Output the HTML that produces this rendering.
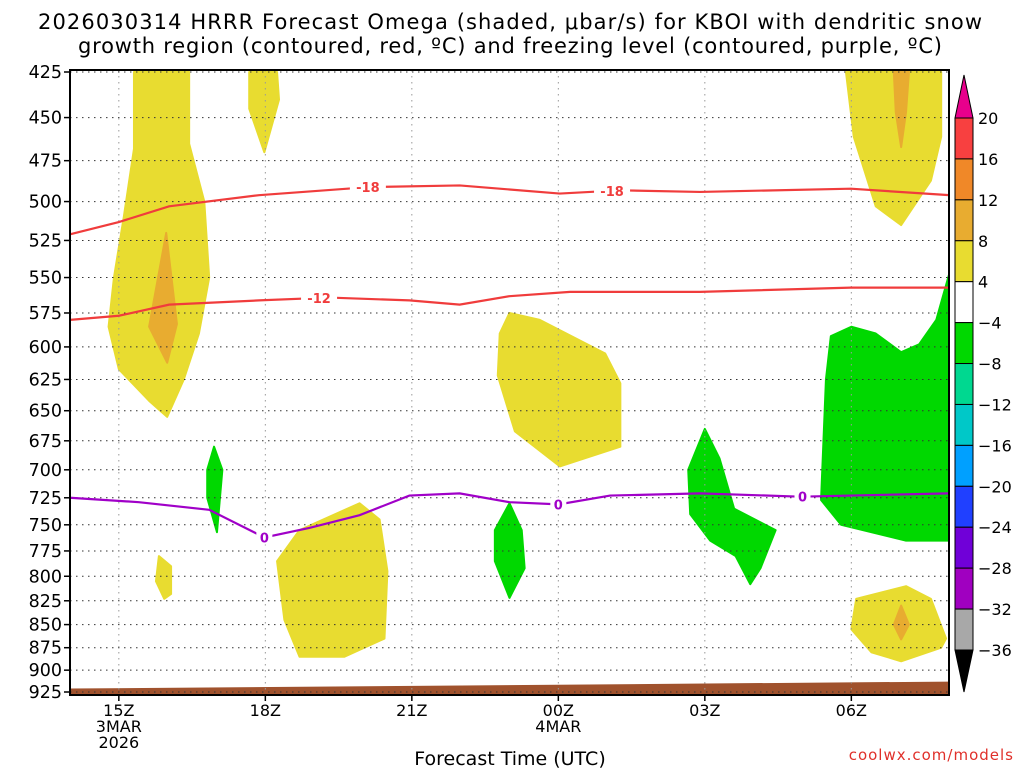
<!DOCTYPE html>
<html><head><meta charset="utf-8"><style>
body{margin:0;background:#fff;font-family:"Liberation Sans",sans-serif}
svg text{font-family:"DejaVu Sans","Liberation Sans",sans-serif}
</style></head><body>
<svg id="c" width="1024" height="768" xmlns="http://www.w3.org/2000/svg">
<text x="510" y="29" font-size="21" text-anchor="middle" textLength="944">2026030314 HRRR Forecast Omega (shaded, μbar/s) for KBOI with dendritic snow</text>
<text x="510" y="53" font-size="21" text-anchor="middle" textLength="864">growth region (contoured, red, ºC) and freezing level (contoured, purple, ºC)</text>
<text x="510" y="765" font-size="19" text-anchor="middle">Forecast Time (UTC)</text>
<text x="1014" y="760" font-size="15" fill="#e0302a" text-anchor="end" letter-spacing="1">coolwx.com/models</text>
<g id="plot"></g>
</svg>
<script>
const yTicks=[425,450,475,500,525,550,575,600,625,650,675,700,725,750,775,800,825,850,875,900,925];
const xTickHours=[1,4,7,10,13,16];
const xTickLabels=["15Z","18Z","21Z","00Z","03Z","06Z"];
const xSubLabels=[["3MAR","2026"],[],[],["4MAR"],[],[]];
const cbLevels=[20,16,12,8,4,-4,-8,-12,-16,-20,-24,-28,-32,-36];
const cbColors=["#f84040","#f08828","#e8ac30","#e8dc30","#ffffff","#00d800","#00d890","#00c8c8","#00a0ff","#2040ff","#7000d8","#a000c0","#a8a8a8"];
const yellowAreas=[
[[1.31,425],[2.44,425],[2.44,465],[2.75,500],[2.85,550],[2.64,590],[2.33,625],[1.99,655],[1.62,642],[1.0,617],[0.79,585],[0.9,550],[1.1,510],[1.31,468]],
[[3.67,425],[4.24,425],[4.28,440],[3.98,470],[3.67,445]],
[[15.89,425],[17.84,425],[17.84,461],[17.63,487],[17.02,515],[16.5,503],[16.05,461]],
[[9.0,575],[9.62,580],[10.96,605],[11.27,628],[11.27,680],[10.03,697],[9.11,667],[8.76,622],[8.8,590]],
[[5.93,730],[6.34,745],[6.5,795],[6.44,865],[5.62,885],[4.7,885],[4.39,845],[4.24,785],[4.7,755]],
[[1.82,780],[2.07,790],[2.07,818],[1.93,823],[1.76,805]],
[[16.1,823],[17.12,810],[17.63,823],[17.94,865],[17.84,875],[17.02,890],[16.41,880],[16.0,855]]];
const orangeAreas=[
[[1.97,520],[2.19,583],[1.99,612],[1.62,585]],
[[16.87,425],[17.18,425],[17.12,447],[17.02,467],[16.91,447]],
[[17.02,830],[17.18,850],[17.02,866],[16.87,850]]];
const greenAreas=[
[[2.95,680],[3.12,700],[3.01,757],[2.81,725],[2.81,700]],
[[9.0,730],[9.25,755],[9.31,792],[9.0,822],[8.7,785],[8.7,755]],
[[13.0,665],[13.3,690],[13.6,735],[14.45,755],[14.14,792],[13.93,808],[13.63,780],[13.11,765],[12.7,740],[12.66,700]],
[[16.0,585],[16.5,590],[17.02,604],[17.39,598],[17.74,580],[18,548],[18,765],[17.12,765],[15.79,750],[15.38,727],[15.48,625],[15.58,592]]];
const lineHours18=[0,1.0,2.03,3.87,6.13,7.98,10.03,11.27,12.9,15.99,18];
const linePres18=[521,513,503,496,491,490,495,493,494,492,496];
const lineHours12=[0,1.0,2.03,3.87,5.31,6.95,7.98,9.0,10.24,12.9,15.99,18];
const linePres12=[580,577,569,566,564,566,569,563,560,560,557,557];
const lineHours0=[0,1.41,2.85,3.98,4.9,5.93,6.95,7.98,9.0,10.01,11.06,12.9,14.96,18];
const linePres0=[725,729,736,762,753,741,723,721,729,731,723,721,724,721];
const groundHours=[0,18];
const groundPres=[921,913];

const L=70,R=949,T=70,B=695;
const X=h=>L+h/18*(R-L);
const Y=p=>72+(Math.log(p)-Math.log(425))/(Math.log(925)-Math.log(425))*620;
const NS="http://www.w3.org/2000/svg";
const g=document.getElementById('plot');
function mk(t,a,parent){const e=document.createElementNS(NS,t);for(const k in a)e.setAttribute(k,a[k]);(parent||g).appendChild(e);return e;}
function poly(pts,fill,name){const e=mk('polygon',{points:pts.map(q=>X(q[0])+','+Y(q[1])).join(' '),fill:fill,'stroke':fill,'stroke-width':2,'stroke-linejoin':'round'});

}
yellowAreas.forEach(a=>poly(a,'#e8dc30','omega-yellow-area'));
orangeAreas.forEach(a=>poly(a,'#e8ac30','omega-orange-area'));
greenAreas.forEach(a=>poly(a,'#00d800','omega-green-area'));
{const pts=[[groundHours[0],groundPres[0]],[groundHours[1],groundPres[1]],[18,935],[0,935]];
const e=mk('polygon',{points:pts.map(q=>X(q[0])+','+Math.min(B,Y(q[1]))).join(' '),fill:'#a0522d'});

}
yTicks.forEach(p=>{const e=mk('line',{x1:L,x2:R,y1:Y(p),y2:Y(p),stroke:'#333','stroke-dasharray':'1.5,4.5','stroke-width':1});

});
xTickHours.forEach(h=>{const e=mk('line',{x1:X(h),x2:X(h),y1:T,y2:B,stroke:'#999','stroke-dasharray':'1.5,4.5','stroke-width':1});

});
function line(hs,ps,col,name){const e=mk('polyline',{points:hs.map((h,i)=>X(h)+','+Y(ps[i])).join(' '),fill:'none',stroke:col,'stroke-width':2.2});

}
line(lineHours18,linePres18,'#f03c3c','contour-minus18');
line(lineHours12,linePres12,'#f03c3c','contour-minus12');
line(lineHours0,linePres0,'#a000c8','freezing-level-0');
function interp(hs,ps,h){for(let i=0;i<hs.length-1;i++)if(h>=hs[i]&&h<=hs[i+1])return ps[i]+(ps[i+1]-ps[i])*(h-hs[i])/(hs[i+1]-hs[i]);return ps[0];}
function clabel(h,hs,ps,txt,col){const x=X(h),y=Y(interp(hs,ps,h));
const r=mk('rect',{x:x-(txt.length*5+3),y:y-7,width:txt.length*10+6,height:14,fill:'#fff'});


const t=mk('text',{x:x,y:y+5,'font-size':13,'font-weight':'bold',fill:col,'text-anchor':'middle'});t.textContent=txt;

}
clabel(6.1,lineHours18,linePres18,'-18','#f03c3c');
clabel(11.1,lineHours18,linePres18,'-18','#f03c3c');
clabel(5.1,lineHours12,linePres12,'-12','#f03c3c');
clabel(3.98,lineHours0,linePres0,'0','#a000c8');
clabel(10.0,lineHours0,linePres0,'0','#a000c8');
clabel(15.0,lineHours0,linePres0,'0','#a000c8');
{const e=mk('rect',{x:L,y:T,width:R-L,height:B-T,fill:'none',stroke:'#000','stroke-width':2});

}
yTicks.forEach(p=>{mk('line',{x1:L-6,x2:L,y1:Y(p),y2:Y(p),stroke:'#000','stroke-width':1.5});
const t=mk('text',{x:L-8,y:Y(p)+6,'font-size':17.5,'text-anchor':'end'});t.textContent=p;

});
xTickHours.forEach((h,i)=>{mk('line',{x1:X(h),x2:X(h),y1:B,y2:B+6,stroke:'#000','stroke-width':1.5});
const t=mk('text',{x:X(h),y:B+21,'font-size':16,'text-anchor':'middle'});t.textContent=xTickLabels[i];


xSubLabels[i].forEach((s,j)=>{const u=mk('text',{x:X(h),y:B+37+j*16,'font-size':16,'text-anchor':'middle'});u.textContent=s;

});});
const cx=955,cw=18,cT=118,cB=650,step=(cB-cT)/(cbLevels.length-1);
cbColors.forEach((c,i)=>{const e=mk('rect',{x:cx,y:cT+i*step,width:cw,height:step,fill:c,stroke:'#000','stroke-width':1});

});
{const e=mk('polygon',{points:`${cx},${cT} ${cx+cw},${cT} ${cx+cw/2},${cT-43}`,fill:'#e8008c',stroke:'#000'});


const f=mk('polygon',{points:`${cx},${cB} ${cx+cw},${cB} ${cx+cw/2},${cB+42}`,fill:'#000',stroke:'#000'});

}
cbLevels.forEach((v,i)=>{const t=mk('text',{x:cx+cw+5,y:cT+i*step+6,'font-size':16});t.textContent=(v<0?'−':'')+Math.abs(v);

});
</script>
</body></html>
